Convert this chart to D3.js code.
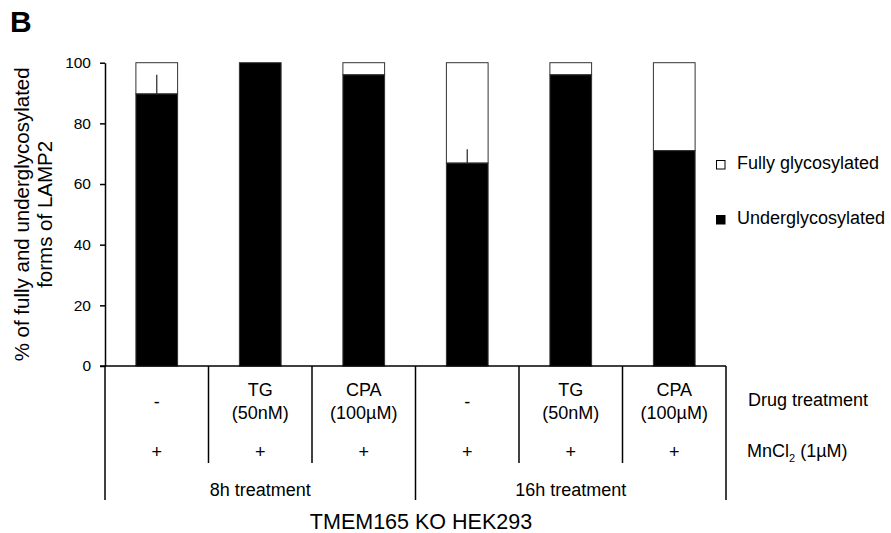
<!DOCTYPE html>
<html>
<head>
<meta charset="utf-8">
<script src="https://cdn.jsdelivr.net/npm/d3@7"></script>
<style>
body{margin:0;background:#fff;}
text{font-family:"Liberation Sans",Arial,sans-serif;fill:#000;}
</style>
</head>
<body>
<svg id="chart" width="891" height="533"></svg>
<script>
// ---- data ----
const drugLine1 = ["-", "TG", "CPA", "-", "TG", "CPA"];
const drugLine2 = ["", "(50nM)", "(100µM)", "", "(50nM)", "(100µM)"];
const mncl2 = ["+", "+", "+", "+", "+", "+"];
const timeGroups = ["8h treatment", "16h treatment"];
const underglycosylated = [89.7, 100, 96, 66.9, 96, 71];
const fullyGlycosylated = [10.3, 0, 4, 33.1, 4, 29];
const errUp = [6.3, 0, 0, 4.6, 0, 0];
const yTicks = [0, 20, 40, 60, 80, 100];
const seriesNames = ["Fully glycosylated", "Underglycosylated"];

const svg = d3.select("#chart");
const x0 = 105, x1 = 726, yTop = 62.7, yBot = 366;

const x = d3.scaleBand().domain(d3.range(6)).range([x0, x1]).paddingInner(0.597).paddingOuter(0.2985);
const y = d3.scaleLinear().domain([0, 100]).range([yBot, yTop]);

// panel letter
svg.append("text").attr("x", 10).attr("y", 32).attr("font-size", 30).attr("font-weight", "bold").text("B");

// bars: fully (white, stacked on top)
const idx = d3.range(6);
svg.selectAll("rect.full").data(idx).join("rect")
  .attr("x", i => x(i)).attr("width", x.bandwidth())
  .attr("y", i => y(underglycosylated[i] + fullyGlycosylated[i]))
  .attr("height", i => y(underglycosylated[i]) - y(underglycosylated[i] + fullyGlycosylated[i]))
  .attr("fill", "#fff").attr("stroke", "#333").attr("stroke-width", 1);
svg.selectAll("rect.under").data(idx).join("rect")
  .attr("x", i => x(i)).attr("width", x.bandwidth())
  .attr("y", i => y(underglycosylated[i]))
  .attr("height", i => y(0) - y(underglycosylated[i]))
  .attr("fill", "#000").attr("stroke", "#333").attr("stroke-width", 1);
// error bars
svg.selectAll("line.err").data(idx.filter(i => errUp[i] > 0)).join("line")
  .attr("x1", i => x(i) + x.bandwidth() / 2).attr("x2", i => x(i) + x.bandwidth() / 2)
  .attr("y1", i => y(underglycosylated[i])).attr("y2", i => y(underglycosylated[i] + errUp[i]))
  .attr("stroke", "#333").attr("stroke-width", 1.3);

// y axis
const yAxis = d3.axisLeft(y).tickValues(yTicks).tickSize(5).tickPadding(9).tickSizeOuter(0);
const gy = svg.append("g").attr("transform", `translate(${x0},0)`).call(yAxis);
gy.select(".domain").attr("stroke", "#000").attr("stroke-width", 1.5);
gy.selectAll(".tick line").attr("stroke", "#000").attr("stroke-width", 1.5);
gy.selectAll(".tick text").attr("font-size", 15.5).attr("font-family", "Liberation Sans, Arial, sans-serif").attr("fill", "#000");

// y title
const yt = svg.append("text").attr("transform", `translate(29,${(yTop + yBot) / 2}) rotate(-90)`)
  .attr("text-anchor", "middle").attr("font-size", 20.5);
yt.append("tspan").attr("x", 0).attr("dy", 0).text("% of fully and underglycosylated");
yt.append("tspan").attr("x", 0).attr("dy", 23).text("forms of LAMP2");

// table lines
const step = x.step();
svg.append("line").attr("x1", x0 - 5).attr("x2", x1).attr("y1", yBot).attr("y2", yBot).attr("stroke", "#000").attr("stroke-width", 1.5);
const boundaries = d3.range(7).map(k => x0 + k * step);
boundaries.forEach((bx, k) => {
  const long = (k % 3 === 0);
  svg.append("line").attr("x1", bx).attr("x2", bx).attr("y1", yBot).attr("y2", long ? 500 : 463)
    .attr("stroke", "#000").attr("stroke-width", 1.5);
});

// table texts
const cx = i => x(i) + x.bandwidth() / 2;
idx.forEach(i => {
  if (drugLine2[i]) {
    svg.append("text").attr("x", cx(i)).attr("y", 396).attr("text-anchor", "middle").attr("font-size", 18).text(drugLine1[i]);
    svg.append("text").attr("x", cx(i)).attr("y", 419).attr("text-anchor", "middle").attr("font-size", 18).text(drugLine2[i]);
  } else {
    svg.append("text").attr("x", cx(i)).attr("y", 407.5).attr("text-anchor", "middle").attr("font-size", 18).text(drugLine1[i]);
  }
  svg.append("text").attr("x", cx(i)).attr("y", 458).attr("text-anchor", "middle").attr("font-size", 18).text(mncl2[i]);
});
timeGroups.forEach((t, g) => {
  svg.append("text").attr("x", x0 + (g * 3 + 1.5) * step).attr("y", 496).attr("text-anchor", "middle").attr("font-size", 18).text(t);
});
svg.append("text").attr("x", 748).attr("y", 406).attr("font-size", 18).text("Drug treatment");
const mn = svg.append("text").attr("x", 747).attr("y", 457).attr("font-size", 18);
mn.append("tspan").text("MnCl");
mn.append("tspan").attr("font-size", 11).attr("dy", 5).text("2");
mn.append("tspan").attr("dy", -5).text(" (1µM)");
svg.append("text").attr("x", 421).attr("y", 529).attr("text-anchor", "middle").attr("font-size", 21.5).text("TMEM165 KO HEK293");

// legend
const legY = [160, 215];
const legFill = ["#fff", "#000"];
seriesNames.forEach((s, k) => {
  svg.append("rect").attr("x", 716.5).attr("y", legY[k] + 0.5).attr("width", 8.5).attr("height", 8.5)
    .attr("fill", legFill[k]).attr("stroke", "#000").attr("stroke-width", 1);
  svg.append("text").attr("x", 737).attr("y", legY[k] + 9).attr("font-size", 18).text(s);
});
</script>
</body>
</html>
